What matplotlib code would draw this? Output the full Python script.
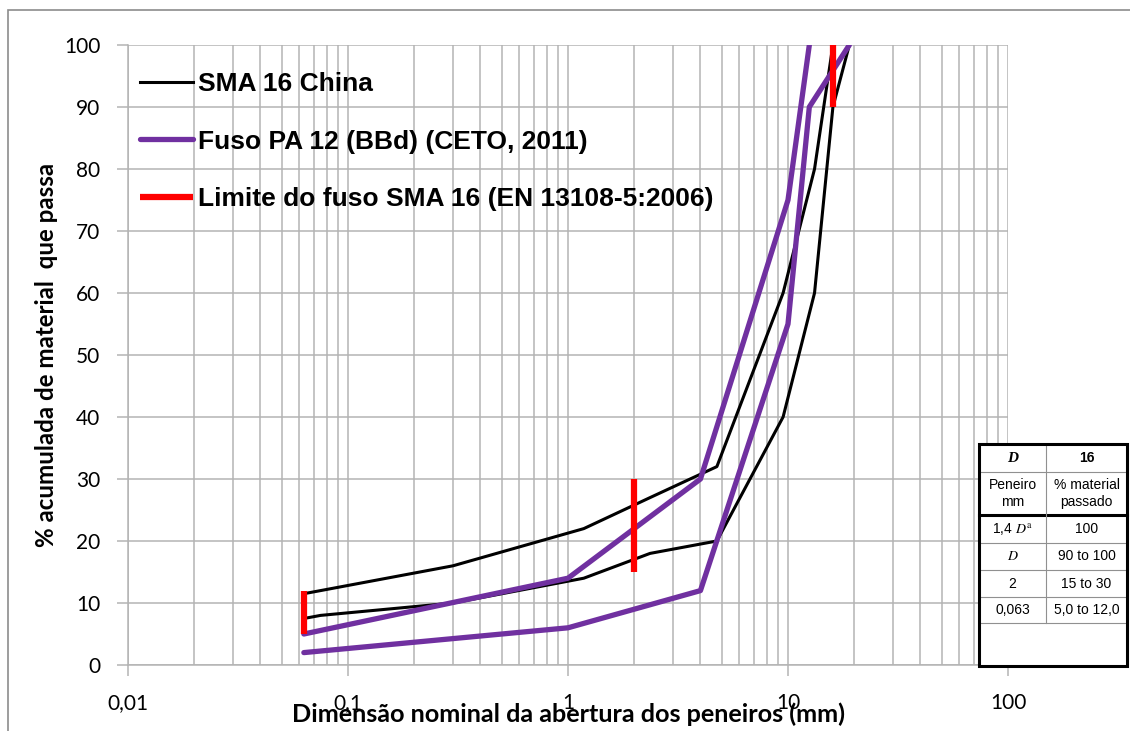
import matplotlib.pyplot as plt
from matplotlib.lines import Line2D
from matplotlib.patches import Rectangle
from matplotlib.ticker import FixedLocator, LogLocator, NullFormatter

plt.switch_backend("Agg")

# --- data --------------------------------------------------------------------
sma_lower_x = [0.063, 0.075, 0.3, 1.18, 2.36, 4.75, 9.5, 13.2, 16, 19]
sma_lower_y = [7.5, 8, 10, 14, 18, 20, 40, 60, 90, 100]
sma_upper_x = [0.063, 0.075, 0.3, 1.18, 2.36, 4.75, 9.5, 13.2, 16]
sma_upper_y = [11.5, 12, 16, 22, 27, 32, 60, 80, 100]

pa_lower_x = [0.063, 1, 4, 10, 12.5, 19]
pa_lower_y = [2, 6, 12, 55, 90, 100]
pa_upper_x = [0.063, 1, 4, 10, 12.5]
pa_upper_y = [5, 14, 30, 75, 100]

en_sieve = [0.063, 2, 16]
en_min = [5, 15, 90]
en_max = [12, 30, 100]

xtick_vals = [0.01, 0.1, 1, 10, 100]
xtick_labels = ["0,01", "0,1", "1", "10", "100"]
ytick_vals = list(range(0, 101, 10))

labels = [
    "SMA 16 China",
    "Fuso PA 12 (BBd) (CETO, 2011)",
    "Limite do fuso SMA 16 (EN 13108-5:2006)",
]

tab_col1 = ["D", "Peneiro\nmm", r"1,4 $D^{\mathrm{a}}$", "$D$", "2", "0,063"]
tab_col2 = ["16", "% material\npassado", "100", "90 to 100", "15 to 30", "5,0 to 12,0"]

# --- figure ------------------------------------------------------------------
W, H = 1130, 731
plt.rcParams["font.family"] = ["Lato", "DejaVu Sans"]
plt.rcParams["mathtext.fontset"] = "stix"

BLACK, PURPLE, RED, GRID = "#000000", "#7030a0", "#ff0000", "#b4b4b4"


def fx(x):
    return x / W


def fy(y):
    return 1 - y / H


fig = plt.figure(figsize=(W / 100, H / 100), dpi=100)
fig.add_artist(
    Rectangle((fx(8), -0.05), 1.0, fy(10) + 0.05, fill=False,
              ec="#8c8c8c", lw=1.2, transform=fig.transFigure)
)

ax = fig.add_axes([fx(128), fy(665), 880 / W, 620 / H])
ax.set_xscale("log")
ax.set_xlim(0.01, 100)
ax.set_ylim(0, 100)

ax.plot(sma_lower_x, sma_lower_y, color=BLACK, lw=2.2, label=labels[0])
ax.plot(sma_upper_x, sma_upper_y, color=BLACK, lw=2.2)
ax.plot(pa_lower_x, pa_lower_y, color=PURPLE, lw=3.8,
        solid_capstyle="round", label=labels[1])
ax.plot(pa_upper_x, pa_upper_y, color=PURPLE, lw=3.8, solid_capstyle="round")
for i, (s, lo, hi) in enumerate(zip(en_sieve, en_min, en_max)):
    ax.plot([s, s], [lo, hi], color=RED, lw=4.5, solid_capstyle="butt",
            label=labels[2] if i == 0 else None)

# grid / ticks
ax.set_axisbelow(True)
ax.xaxis.set_major_locator(FixedLocator(xtick_vals))
ax.set_xticklabels(xtick_labels)
ax.xaxis.set_minor_locator(LogLocator(base=10, subs=range(2, 10)))
ax.xaxis.set_minor_formatter(NullFormatter())
ax.set_yticks(ytick_vals)
ax.grid(which="both", axis="x", color=GRID, lw=1.1)
ax.grid(which="major", axis="y", color=GRID, lw=1.1)
ax.tick_params(which="major", direction="out", length=8, width=1.1,
               color=GRID, pad=12, labelsize=15)
ax.tick_params(which="minor", length=0)
for side in ["top", "right"]:
    ax.spines[side].set_visible(False)
for side in ["left", "bottom"]:
    ax.spines[side].set_color(GRID)
    ax.spines[side].set_linewidth(1.1)

ax.set_xlabel("Dimensão nominal da abertura dos peneiros (mm)",
              fontsize=18.2, fontweight="bold")
ax.xaxis.set_label_coords(0.5, -(702 - 665) / 620)
ax.set_ylabel("% acumulada de material  que passa", fontsize=17.4, fontweight="bold")
ax.yaxis.set_label_coords(-(128 - 47) / 880, 0.5)
ax.yaxis.label.set_va("center")

ax.legend(loc="upper left", bbox_to_anchor=(12 / 880, 1 - 27 / 620),
          frameon=False, borderpad=0, borderaxespad=0, handlelength=2.0,
          handletextpad=0.2, labelspacing=1.27,
          prop={"family": "Liberation Sans", "weight": "bold", "size": 19})

# --- inset table (EN 13108-5) --------------------------------------------------
tx0, tx1, tx2 = 979, 1046, 1127
row_y = [444, 472, 515, 543, 570, 597, 623]
ty_end = 666

fig.add_artist(Rectangle((fx(tx0), fy(ty_end)), (tx2 - tx0) / W, (ty_end - row_y[0]) / H,
                         fc="white", ec="none", transform=fig.transFigure, zorder=5))
for y in row_y[1:]:
    thick = y == 515
    fig.add_artist(Line2D([fx(tx0), fx(tx2)], [fy(y), fy(y)],
                          color=BLACK if thick else "#909090", lw=2.2 if thick else 0.8,
                          transform=fig.transFigure, zorder=6))
fig.add_artist(Line2D([fx(tx1), fx(tx1)], [fy(row_y[0]), fy(row_y[-1])],
                      color="#909090", lw=0.8, transform=fig.transFigure, zorder=6))
fig.add_artist(Rectangle((fx(tx0), fy(ty_end)), (tx2 - tx0) / W, (ty_end - row_y[0]) / H,
                         fill=False, ec=BLACK, lw=2.2, transform=fig.transFigure, zorder=7))

for i, (a, b) in enumerate(zip(tab_col1, tab_col2)):
    yc = fy((row_y[i] + row_y[i + 1]) / 2)
    kw = dict(ha="center", va="center", fontsize=10, family="Liberation Sans", zorder=8)
    if i == 0:
        fig.text(fx((tx0 + tx1) / 2), yc, a, ha="center", va="center", fontsize=11,
                 family="Liberation Serif", style="italic", weight="bold", zorder=8)
        fig.text(fx((tx1 + tx2) / 2), yc, b, weight="bold", **kw)
    else:
        fig.text(fx((tx0 + tx1) / 2), yc, a, **kw)
        fig.text(fx((tx1 + tx2) / 2), yc, b, **kw)

fig.savefig("out.png", dpi=100)
